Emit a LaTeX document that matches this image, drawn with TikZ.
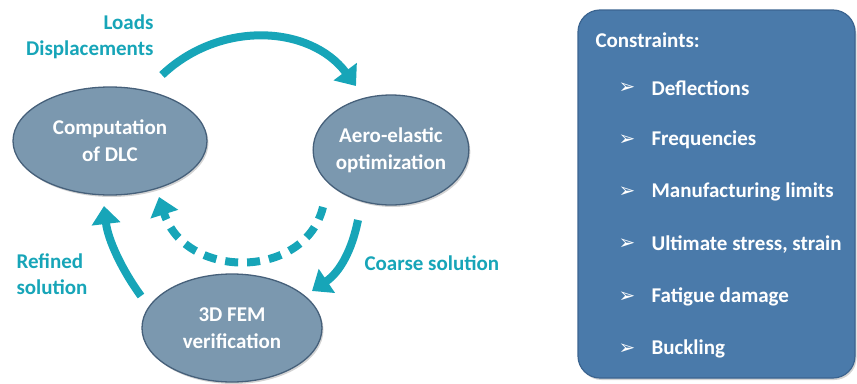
\documentclass[tikz,border=0pt]{standalone}
\usepackage{fontspec}
\setmainfont{Carlito}
\newfontfamily\symfont{DejaVu Sans}
\usetikzlibrary{arrows.meta,shapes.geometric,shadows}

\definecolor{flowteal}{HTML}{17A5B8}
\definecolor{ellfill}{HTML}{7B98AF}
\definecolor{ellline}{HTML}{46607A}
\definecolor{boxfill}{HTML}{4A7AAA}
\definecolor{boxline}{HTML}{3B6490}

\tikzset{
  stage/.style={ellipse, draw=ellline, line width=1.3pt, fill=ellfill,
    text=white, font=\fontsize{21}{27}\selectfont\bfseries, align=center,
    inner sep=0pt, drop shadow={shadow xshift=1.5pt, shadow yshift=-2pt, opacity=0.35}},
  flow/.style={draw=flowteal, line width=8pt,
    -{Triangle[length=18pt, width=28pt]}},
  flowlabel/.style={text=flowteal, font=\fontsize{21}{25}\selectfont\bfseries},
  item/.style={text=white, font=\fontsize{21}{25}\selectfont\bfseries, anchor=west}
}

\begin{document}
\begin{tikzpicture}[x=1pt, y=-1pt]
  \useasboundingbox (0,0) rectangle (857,383);

  % the three stages of the loop
  \node[stage, minimum width=194pt, minimum height=108pt] (dlc) at (110,141)
    {Computation\\of DLC};
  \node[stage, minimum width=154pt, minimum height=110pt] (aero) at (391,150)
    {Aero-elastic\\optimization};
  \node[stage, minimum width=180pt, minimum height=108pt] (fem) at (232,328)
    {3D FEM\\verification};

  % arrow ends
  \coordinate (loadsout) at (162,75);
  \coordinate (loadsin) at (356,86);
  \coordinate (coarseout) at (358,220);
  \coordinate (coarsein) at (312,291);
  \coordinate (refout) at (141,296);
  \coordinate (refin) at (104,206);
  \coordinate (dashout) at (323,207);
  \coordinate (dashin) at (159,197);

  \draw[flow] (loadsout) .. controls (220,20) and (310,25) .. (loadsin);
  \draw[flow] (coarseout) .. controls (352,250) and (340,272) .. (coarsein);
  \draw[flow] (refout) .. controls (122,270) and (108,240) .. (refin);
  \draw[flow, dash pattern=on 13pt off 9pt] (dashout) .. controls (305,280) and (185,280) .. (dashin);

  % labels on the arrows
  \node[flowlabel, anchor=east] (loads) at (157,22) {Loads};
  \node[flowlabel, anchor=east] (disp) at (157,50) {Displacements};
  \node[flowlabel, anchor=west] (refined) at (13,261) {Refined};
  \node[flowlabel, anchor=west] (refsol) at (13,287) {solution};
  \node[flowlabel, anchor=west] (coarse) at (361,263) {Coarse solution};

  % constraints box
  \fill[boxfill, draw=boxline, line width=1.2pt, rounded corners=22pt,
    drop shadow={shadow xshift=1.5pt, shadow yshift=-2pt, opacity=0.35}]
    (578,10) rectangle (855,378);
  \node[item] (title) at (592,40) {Constraints:};
  \foreach \name [count=\i] in {Deflections, Frequencies, Manufacturing limits,
      {Ultimate stress, strain}, Fatigue damage, Buckling} {
    \node[text=white, font=\symfont\fontsize{20}{22}\selectfont] (bullet\i)
      at (627,{88+(\i-1)*52.2}) {➢};
    \node[item] (con\i) at (648,{88+(\i-1)*52.2}) {\name};
  }
\end{tikzpicture}
\end{document}
